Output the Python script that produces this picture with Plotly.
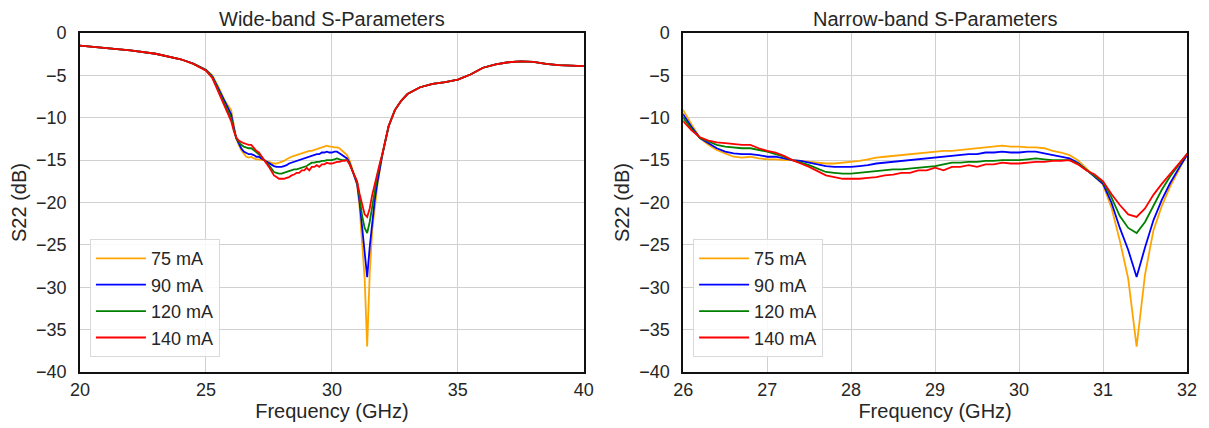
import plotly.graph_objects as go

freq = [20.0, 21.0, 22.0, 23.0, 23.5, 24.0, 24.5, 25.0, 25.25, 25.5, 25.75,
        26.0, 26.1, 26.2, 26.3, 26.4, 26.5, 26.6, 26.7, 26.8, 26.9,
        27.0, 27.1, 27.2, 27.3, 27.4, 27.5, 27.6, 27.7, 27.8, 27.9,
        28.0, 28.1, 28.2, 28.3, 28.4, 28.5, 28.6, 28.7, 28.8, 28.9,
        29.0, 29.1, 29.2, 29.3, 29.4, 29.5, 29.6, 29.7, 29.8, 29.9,
        30.0, 30.1, 30.2, 30.3, 30.4, 30.5, 30.6, 30.7, 30.8, 30.9,
        31.0, 31.1, 31.2, 31.3, 31.4, 31.5, 31.6, 31.7, 31.8, 31.9,
        32.0, 32.25, 32.5, 32.75, 33.0, 33.5, 34.0, 34.5, 35.0, 35.5,
        36.0, 36.5, 37.0, 37.5, 38.0, 38.5, 39.0, 39.5, 40.0]

s22_75mA = [-1.5, -1.75, -2.05, -2.45, -2.75, -3.1, -3.6, -4.3, -5.0, -6.4, -8.0,
            -9.1, -10.8, -12.4, -13.2, -13.8, -14.2, -14.6, -14.7, -14.6, -14.8,
            -14.9, -14.9, -15.0, -15.0, -15.1, -15.2, -15.3, -15.4, -15.4, -15.3,
            -15.2, -15.1, -14.9, -14.7, -14.6, -14.5, -14.4, -14.3, -14.2, -14.1,
            -14.0, -13.9, -13.9, -13.8, -13.7, -13.6, -13.5, -13.4, -13.3, -13.4,
            -13.4, -13.5, -13.5, -13.6, -13.9, -14.1, -14.4, -15.0, -16.0, -16.9,
            -17.9, -20.6, -24.5, -29.0, -37.0, -28.5, -23.3, -20.4, -18.1, -16.2,
            -14.3, -11.0, -9.1, -8.0, -7.2, -6.4, -6.0, -5.8, -5.5, -4.9,
            -4.1, -3.7, -3.45, -3.35, -3.4, -3.65, -3.8, -3.85, -3.9]

s22_90mA = [-1.5, -1.75, -2.05, -2.45, -2.75, -3.1, -3.6, -4.35, -5.1, -6.6, -8.2,
            -9.6, -11.1, -12.4, -13.0, -13.6, -14.0, -14.2, -14.3, -14.3, -14.4,
            -14.6, -14.6, -14.8, -15.0, -15.1, -15.3, -15.5, -15.7, -15.8, -15.8,
            -15.8, -15.7, -15.6, -15.4, -15.3, -15.2, -15.1, -15.0, -14.9, -14.8,
            -14.7, -14.6, -14.5, -14.4, -14.3, -14.3, -14.1, -14.1, -14.0, -14.1,
            -14.1, -14.0, -14.0, -14.2, -14.4, -14.6, -14.8, -15.3, -16.1, -16.9,
            -17.8, -20.0, -23.0, -25.6, -28.8, -25.3, -22.1, -19.7, -17.7, -16.0,
            -14.4, -11.0, -9.1, -8.0, -7.2, -6.4, -6.0, -5.8, -5.5, -4.9,
            -4.1, -3.7, -3.45, -3.35, -3.4, -3.65, -3.8, -3.85, -3.9]

s22_120mA = [-1.5, -1.75, -2.05, -2.45, -2.75, -3.1, -3.65, -4.4, -5.2, -6.8, -8.4,
             -10.0, -11.3, -12.4, -12.8, -13.2, -13.4, -13.5, -13.6, -13.6, -13.8,
             -14.0, -14.3, -14.6, -15.0, -15.3, -15.6, -16.0, -16.4, -16.5, -16.6,
             -16.6, -16.5, -16.4, -16.3, -16.2, -16.1, -16.1, -16.0, -15.9, -15.8,
             -15.7, -15.5, -15.3, -15.3, -15.2, -15.2, -15.1, -15.1, -15.0, -15.0,
             -15.0, -14.9, -14.8, -14.9, -15.0, -15.0, -15.0, -15.4, -16.1, -16.8,
             -17.6, -19.4, -21.6, -23.0, -23.6, -22.3, -20.3, -18.5, -16.9, -15.6,
             -14.4, -11.0, -9.1, -8.0, -7.2, -6.4, -6.0, -5.8, -5.5, -4.9,
             -4.1, -3.7, -3.45, -3.35, -3.4, -3.65, -3.8, -3.85, -3.9]

s22_140mA = [-1.5, -1.75, -2.05, -2.45, -2.75, -3.1, -3.65, -4.45, -5.3, -7.0, -8.7,
             -10.4, -11.5, -12.3, -12.7, -12.9, -13.0, -13.1, -13.2, -13.2, -13.6,
             -13.9, -14.1, -14.5, -15.0, -15.4, -15.8, -16.3, -16.8, -17.0, -17.2,
             -17.2, -17.2, -17.1, -17.0, -16.8, -16.7, -16.5, -16.5, -16.2, -16.2,
             -15.9, -16.2, -15.8, -15.8, -15.6, -15.8, -15.5, -15.5, -15.3, -15.4,
             -15.4, -15.3, -15.2, -15.2, -15.1, -15.1, -15.0, -15.5, -16.2, -16.7,
             -17.5, -19.0, -20.3, -21.4, -21.7, -20.7, -19.1, -17.8, -16.6, -15.4,
             -14.3, -11.0, -9.1, -8.0, -7.2, -6.4, -6.0, -5.8, -5.5, -4.9,
             -4.1, -3.7, -3.45, -3.35, -3.4, -3.65, -3.8, -3.85, -3.9]

series_names = ["75 mA", "90 mA", "120 mA", "140 mA"]
series_values = [s22_75mA, s22_90mA, s22_120mA, s22_140mA]
colors = ["#FFA500", "#0000FF", "#008000", "#FF0000"]

panel_titles = ["Wide-band S-Parameters", "Narrow-band S-Parameters"]
x_ranges = [[20, 40], [26, 32]]
x_ticks = [[20, 25, 30, 35, 40], [26, 27, 28, 29, 30, 31, 32]]
y_ticks = [0, -5, -10, -15, -20, -25, -30, -35, -40]

FONT = "Liberation Sans, Arial, sans-serif"
TXT = "#262626"

fig = go.Figure()
for p, (xa, ya, lg) in enumerate([("x", "y", "legend"), ("x2", "y2", "legend2")]):
    for name, vals, col in zip(series_names, series_values, colors):
        fig.add_trace(go.Scatter(x=freq, y=vals, mode="lines", name=name,
                                 line=dict(color=col, width=1.8),
                                 xaxis=xa, yaxis=ya, legend=lg))

axis_common = dict(showgrid=True, gridcolor="#d0d0d0", gridwidth=1,
                   showline=True, linecolor="#111111", linewidth=1.8, mirror=True,
                   zeroline=False, ticks="",
                   tickfont=dict(family=FONT, size=18, color=TXT))

left_dom = [0, 507 / 1114]
right_dom = [607 / 1114, 1]

for i, dom in enumerate([left_dom, right_dom]):
    sx = "" if i == 0 else "2"
    fig.update_layout(**{
        "xaxis" + sx: dict(axis_common, domain=dom, range=x_ranges[i], tickvals=x_ticks[i],
                           anchor="y" + sx,
                           title=dict(text="Frequency (GHz)", standoff=2,
                                      font=dict(family=FONT, size=20, color=TXT))),
        "yaxis" + sx: dict(axis_common, range=[-40, 0], tickvals=y_ticks, anchor="x" + sx,
                           ticklabelstandoff=8,
                           title=dict(text="S22 (dB)", standoff=4,
                                      font=dict(family=FONT, size=20, color=TXT))),
    })

annotations = []
for i, dom in enumerate([left_dom, right_dom]):
    annotations.append(dict(text=panel_titles[i], x=(dom[0] + dom[1]) / 2, y=1,
                            xref="paper", yref="paper", xanchor="center", yanchor="bottom",
                            yshift=1, showarrow=False,
                            font=dict(family=FONT, size=20, color=TXT)))

legend_common = dict(bgcolor="rgba(255,255,255,0.85)", bordercolor="#d9d9d9", borderwidth=1,
                     font=dict(family=FONT, size=18, color=TXT),
                     xanchor="left", yanchor="bottom", y=0.044, itemwidth=50,
                     tracegroupgap=0)

fig.update_layout(
    width=1209, height=428,
    margin=dict(l=80, r=15, t=33, b=56),
    paper_bgcolor="white", plot_bgcolor="white",
    annotations=annotations,
    legend=dict(legend_common, x=10 / 1114),
    legend2=dict(legend_common, x=(617) / 1114),
    showlegend=True,
)

fig.write_html("out.html")
